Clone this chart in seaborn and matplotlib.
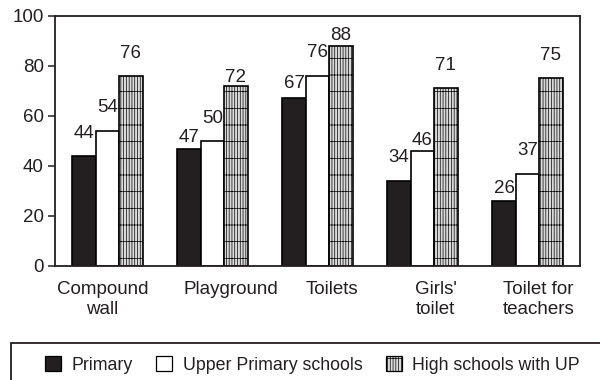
import matplotlib
matplotlib.use("Agg")
import matplotlib.pyplot as plt
import seaborn as sns
import pandas as pd
from matplotlib.patches import Patch, Rectangle
from matplotlib.transforms import ScaledTranslation

# Facilities available in schools (%)
categories = ["Compound\nwall", "Playground", "Toilets", "Girls'\ntoilet", "Toilet for\nteachers"]
series = ["Primary", "Upper Primary schools", "High schools with UP"]
primary = [44, 47, 67, 34, 26]
upper_primary = [54, 50, 76, 46, 37]
high_with_up = [76, 72, 88, 71, 75]
y_ticks = [0, 20, 40, 60, 80, 100]

values = [primary, upper_primary, high_with_up]
df = pd.DataFrame({
    "category": [c for _ in series for c in categories],
    "series": [s for s in series for _ in categories],
    "value": [v for vals in values for v in vals],
})

sns.set_theme(style="white")
plt.rcParams["font.family"] = ["Liberation Sans", "DejaVu Sans"]
plt.rcParams["hatch.linewidth"] = 0.5
plt.rcParams["hatch.color"] = "#4a4a4a"

colors = {"Primary": "#231f20", "Upper Primary schools": "#ffffff",
          "High schools with UP": "#dadada"}
hatch = "||||||-"

fig = plt.figure(figsize=(6, 3.8), dpi=100)
ax = fig.add_axes([55 / 600, 1 - 266 / 380, 525 / 600, 250 / 380])

sns.barplot(data=df, x="category", y="value", hue="series",
            order=categories, hue_order=series, palette=colors,
            width=0.667, dodge=True, saturation=1, edgecolor="black",
            linewidth=1.2, legend=False, ax=ax)

for bar in ax.containers[2]:
    bar.set_hatch(hatch)
    if hasattr(bar, "set_hatchcolor"):
        bar.set_hatchcolor("#4a4a4a")

# vertical gap (px) between each bar top and its value label
label_gap = [[18, 6, 10, 19, 8],
             [19, 18, 19, 6, 18],
             [18, 4, 6, 18, 18]]
for i, cont in enumerate(ax.containers):
    for j, bar in enumerate(cont):
        h = bar.get_height()
        ax.annotate(f"{h:g}", xy=(bar.get_x() + bar.get_width() / 2, h),
                    xytext=(0, label_gap[i][j] * 0.72), textcoords="offset points",
                    ha="center", va="baseline", fontsize=13.5, color="#231f20")

ax.set_xlim(-0.5, len(categories) - 0.5)
ax.set_ylim(0, 100)
ax.set_yticks(y_ticks)
ax.set_xlabel("")
ax.set_ylabel("")
ax.tick_params(axis="y", left=True, length=5, width=1.1, pad=3,
               labelsize=13.5, colors="#231f20")
ax.tick_params(axis="x", bottom=False, length=0, pad=11,
               labelsize=13.5, colors="#231f20")
for s in ax.spines.values():
    s.set_visible(True)
    s.set_color("#231f20")
    s.set_linewidth(1.3)

# nudge category labels sideways (px)
shift_px = [-5, 18, 14, 13, 11]
for lbl, dx in zip(ax.get_xticklabels(), shift_px):
    lbl.set_transform(lbl.get_transform() +
                      ScaledTranslation(dx / 100, 0, fig.dpi_scale_trans))

handles = [Patch(facecolor=colors[s], edgecolor="black", linewidth=0.9,
                 hatch=hatch if s == series[2] else None) for s in series]
fig.legend(handles, series, loc="center left",
           bbox_to_anchor=(45 / 600, 1 - 365 / 380), ncol=3, frameon=False,
           fontsize=12.8, handlelength=0.9, handleheight=0.9,
           handletextpad=0.6, columnspacing=1.3, borderpad=0,
           borderaxespad=0, labelcolor="#231f20")
fig.add_artist(Rectangle((11 / 600, -0.5), 1.2, 0.5 + (1 - 343 / 380),
                         transform=fig.transFigure, fill=False,
                         edgecolor="#231f20", linewidth=1.3))

fig.savefig("out.png", dpi=100)
